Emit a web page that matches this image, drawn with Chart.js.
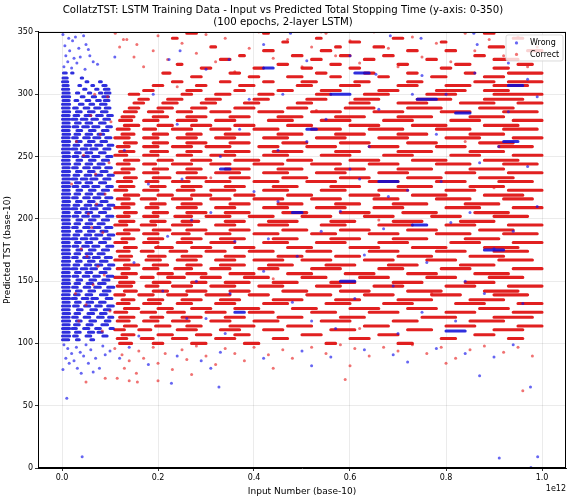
<!DOCTYPE html>
<html><head><meta charset="utf-8">
<script src="https://cdn.jsdelivr.net/npm/chart.js@4.4.1/dist/chart.umd.min.js"></script>
<style>html,body{margin:0;padding:0;background:#fff;}</style>
</head><body>
<canvas id="c" width="572" height="500"></canvas>
<script>
// ---------- DATA (x in units of 1e12) ----------
const TITLE_LINES = ['CollatzTST: LSTM Training Data - Input vs Predicted Total Stopping Time (y-axis: 0-350)', '(100 epochs, 2-layer LSTM)'];
const X_LABEL = 'Input Number (base-10)';
const Y_LABEL = 'Predicted TST (base-10)';
const X_OFFSET_TEXT = '1e12';
const X_TICKS = [0.0, 0.2, 0.4, 0.6, 0.8, 1.0];
const Y_TICKS = [0, 50, 100, 150, 200, 250, 300, 350];
const SERIES_NAMES = ['Wrong', 'Correct'];

// Correct predictions that share one predicted value form runs: [y, xStart, xEnd, xStart, xEnd, ...]
const correctDashRows = [
[100, 0.12,0.145, 0.19,0.21, 0.27,0.3, 0.38,0.41, 0.55,0.57, 0.7,0.73],
[104, 0.115,0.135, 0.165,0.19, 0.23,0.26, 0.32,0.36, 0.44,0.47, 0.6,0.64, 0.79,0.82, 0.93,0.96],
[107, 0.125,0.15, 0.2,0.23, 0.28,0.31, 0.36,0.39, 0.5,0.54, 0.66,0.7, 0.86,0.9],
[111, 0.11,0.13, 0.16,0.185, 0.24,0.28, 0.33,0.37, 0.42,0.46, 0.56,0.61, 0.72,0.77, 0.9,0.96],
[114, 0.13,0.155, 0.195,0.225, 0.26,0.29, 0.35,0.4, 0.47,0.52, 0.63,0.68, 0.8,0.86, 0.95,1.0],
[118, 0.115,0.14, 0.17,0.2, 0.23,0.265, 0.31,0.35, 0.4,0.45, 0.54,0.6, 0.69,0.74, 0.85,0.92],
[121, 0.12,0.15, 0.185,0.21, 0.25,0.29, 0.34,0.38, 0.45,0.5, 0.58,0.63, 0.75,0.82, 0.9,0.98],
[125, 0.11,0.135, 0.165,0.195, 0.22,0.255, 0.3,0.34, 0.39,0.44, 0.52,0.57, 0.64,0.7, 0.8,0.86, 0.94,1.0],
[128, 0.13,0.16, 0.2,0.23, 0.27,0.31, 0.36,0.41, 0.48,0.53, 0.6,0.66, 0.72,0.78, 0.87,0.93],
[132, 0.115,0.14, 0.17,0.205, 0.24,0.27, 0.32,0.36, 0.42,0.47, 0.55,0.6, 0.67,0.73, 0.82,0.88, 0.95,1.0],
[135, 0.125,0.15, 0.18,0.21, 0.25,0.29, 0.33,0.37, 0.44,0.5, 0.57,0.62, 0.7,0.77, 0.85,0.92],
[139, 0.11,0.13, 0.16,0.19, 0.22,0.26, 0.3,0.35, 0.39,0.43, 0.51,0.56, 0.63,0.69, 0.77,0.83, 0.9,0.97],
[142, 0.13,0.155, 0.19,0.22, 0.26,0.3, 0.35,0.39, 0.46,0.51, 0.58,0.64, 0.72,0.79, 0.88,0.95],
[146, 0.115,0.145, 0.175,0.2, 0.23,0.27, 0.31,0.36, 0.41,0.46, 0.53,0.58, 0.65,0.71, 0.8,0.86, 0.93,1.0],
[149, 0.12,0.15, 0.19,0.225, 0.27,0.3, 0.34,0.39, 0.44,0.49, 0.56,0.61, 0.69,0.75, 0.84,0.9],
[153, 0.11,0.135, 0.165,0.19, 0.22,0.255, 0.29,0.33, 0.38,0.43, 0.5,0.55, 0.62,0.68, 0.76,0.82, 0.89,0.96],
[156, 0.125,0.155, 0.2,0.23, 0.26,0.3, 0.35,0.4, 0.47,0.52, 0.59,0.65, 0.72,0.78, 0.86,0.93],
[160, 0.115,0.14, 0.17,0.2, 0.235,0.27, 0.31,0.35, 0.41,0.45, 0.52,0.58, 0.66,0.71, 0.79,0.85, 0.94,1.0],
[163, 0.13,0.16, 0.19,0.22, 0.26,0.29, 0.33,0.38, 0.43,0.48, 0.55,0.61, 0.68,0.74, 0.83,0.9],
[167, 0.11,0.14, 0.175,0.205, 0.24,0.28, 0.32,0.36, 0.4,0.46, 0.5,0.56, 0.63,0.69, 0.76,0.82, 0.91,0.98],
[170, 0.12,0.145, 0.18,0.215, 0.25,0.29, 0.34,0.38, 0.45,0.5, 0.57,0.62, 0.7,0.77, 0.85,0.92],
[174, 0.115,0.14, 0.165,0.19, 0.225,0.26, 0.3,0.34, 0.39,0.44, 0.51,0.56, 0.64,0.7, 0.78,0.84, 0.9,0.97],
[177, 0.13,0.155, 0.195,0.23, 0.27,0.31, 0.36,0.4, 0.47,0.52, 0.6,0.66, 0.73,0.8, 0.88,0.95],
[181, 0.11,0.135, 0.17,0.2, 0.24,0.27, 0.31,0.36, 0.42,0.47, 0.53,0.59, 0.66,0.72, 0.81,0.87, 0.94,1.0],
[184, 0.125,0.15, 0.18,0.21, 0.25,0.29, 0.33,0.38, 0.44,0.49, 0.56,0.62, 0.69,0.76, 0.84,0.91],
[188, 0.115,0.14, 0.17,0.2, 0.23,0.265, 0.3,0.35, 0.4,0.45, 0.52,0.57, 0.64,0.7, 0.78,0.85, 0.92,0.99],
[191, 0.13,0.16, 0.19,0.225, 0.26,0.3, 0.35,0.39, 0.46,0.51, 0.58,0.64, 0.72,0.78, 0.87,0.94],
[195, 0.11,0.135, 0.165,0.195, 0.23,0.27, 0.32,0.36, 0.41,0.47, 0.54,0.59, 0.66,0.73, 0.8,0.86, 0.93,1.0],
[198, 0.12,0.15, 0.185,0.215, 0.25,0.285, 0.34,0.38, 0.43,0.49, 0.56,0.61, 0.69,0.75, 0.83,0.9],
[202, 0.115,0.14, 0.17,0.2, 0.235,0.27, 0.3,0.35, 0.39,0.44, 0.5,0.56, 0.63,0.69, 0.77,0.83, 0.9,0.97],
[205, 0.13,0.155, 0.19,0.22, 0.26,0.3, 0.34,0.39, 0.46,0.51, 0.58,0.64, 0.71,0.78, 0.86,0.93],
[209, 0.11,0.14, 0.175,0.2, 0.24,0.28, 0.32,0.36, 0.42,0.47, 0.53,0.59, 0.65,0.71, 0.8,0.87, 0.94,1.0],
[212, 0.125,0.15, 0.185,0.215, 0.25,0.29, 0.35,0.39, 0.45,0.5, 0.57,0.62, 0.69,0.76, 0.84,0.91],
[216, 0.115,0.14, 0.165,0.195, 0.23,0.27, 0.31,0.35, 0.4,0.46, 0.52,0.58, 0.65,0.7, 0.78,0.85, 0.92,0.98],
[219, 0.13,0.16, 0.2,0.23, 0.27,0.31, 0.36,0.4, 0.47,0.52, 0.6,0.66, 0.73,0.8, 0.88,0.96],
[223, 0.11,0.135, 0.17,0.2, 0.24,0.275, 0.31,0.36, 0.42,0.47, 0.54,0.59, 0.66,0.72, 0.8,0.86, 0.93,1.0],
[226, 0.12,0.15, 0.185,0.215, 0.25,0.29, 0.34,0.38, 0.44,0.49, 0.56,0.62, 0.7,0.77, 0.85,0.92],
[230, 0.115,0.145, 0.175,0.2, 0.23,0.265, 0.3,0.35, 0.4,0.45, 0.51,0.57, 0.64,0.7, 0.78,0.84, 0.91,0.98],
[233, 0.13,0.155, 0.19,0.225, 0.26,0.3, 0.35,0.39, 0.46,0.51, 0.58,0.64, 0.72,0.79, 0.87,0.94],
[237, 0.11,0.14, 0.17,0.2, 0.24,0.28, 0.32,0.37, 0.42,0.47, 0.53,0.59, 0.66,0.72, 0.8,0.86, 0.93,1.0],
[240, 0.125,0.15, 0.19,0.22, 0.26,0.29, 0.34,0.39, 0.45,0.5, 0.57,0.63, 0.7,0.77, 0.85,0.92],
[244, 0.115,0.14, 0.17,0.195, 0.23,0.27, 0.31,0.35, 0.4,0.46, 0.52,0.58, 0.64,0.7, 0.78,0.85, 0.92,0.99],
[247, 0.13,0.16, 0.2,0.23, 0.27,0.31, 0.36,0.41, 0.47,0.52, 0.6,0.66, 0.73,0.8, 0.88,0.95],
[251, 0.11,0.135, 0.17,0.2, 0.24,0.27, 0.31,0.36, 0.42,0.47, 0.54,0.6, 0.67,0.73, 0.81,0.87, 0.94,1.0],
[254, 0.12,0.15, 0.185,0.22, 0.26,0.29, 0.34,0.39, 0.44,0.5, 0.57,0.62, 0.7,0.77, 0.85,0.92],
[258, 0.115,0.14, 0.17,0.2, 0.23,0.27, 0.3,0.35, 0.41,0.45, 0.51,0.57, 0.64,0.7, 0.78,0.84, 0.91,0.98],
[261, 0.13,0.155, 0.19,0.22, 0.26,0.3, 0.35,0.39, 0.46,0.51, 0.58,0.64, 0.72,0.78, 0.87,0.94],
[265, 0.11,0.14, 0.17,0.2, 0.24,0.28, 0.32,0.36, 0.42,0.47, 0.53,0.59, 0.66,0.72, 0.8,0.87, 0.94,1.0],
[268, 0.125,0.15, 0.19,0.22, 0.26,0.29, 0.34,0.39, 0.45,0.5, 0.57,0.63, 0.7,0.76, 0.85,0.92],
[272, 0.115,0.14, 0.17,0.195, 0.23,0.27, 0.31,0.35, 0.4,0.45, 0.52,0.58, 0.64,0.71, 0.78,0.85, 0.92,0.99],
[275, 0.13,0.16, 0.2,0.23, 0.27,0.31, 0.36,0.4, 0.47,0.52, 0.6,0.66, 0.73,0.8, 0.88,0.95],
[279, 0.12,0.145, 0.17,0.2, 0.24,0.28, 0.32,0.36, 0.43,0.48, 0.54,0.6, 0.67,0.73, 0.81,0.87, 0.94,1.0],
[282, 0.125,0.15, 0.19,0.22, 0.26,0.3, 0.35,0.39, 0.45,0.5, 0.57,0.63, 0.7,0.77, 0.85,0.92],
[286, 0.13,0.155, 0.18,0.21, 0.24,0.27, 0.31,0.35, 0.41,0.46, 0.52,0.58, 0.65,0.71, 0.79,0.85, 0.92,0.99],
[289, 0.14,0.16, 0.2,0.23, 0.27,0.3, 0.36,0.4, 0.47,0.51, 0.59,0.65, 0.72,0.79, 0.87,0.94],
[293, 0.15,0.17, 0.21,0.24, 0.29,0.32, 0.38,0.41, 0.49,0.52, 0.6,0.64, 0.7,0.76, 0.83,0.9, 0.95,1.0],
[296, 0.16,0.18, 0.22,0.25, 0.3,0.33, 0.4,0.43, 0.51,0.55, 0.61,0.66, 0.74,0.81, 0.88,0.96],
[300, 0.14,0.16, 0.25,0.27, 0.32,0.35, 0.41,0.44, 0.53,0.56, 0.63,0.68, 0.76,0.82, 0.9,1.0],
[303, 0.17,0.19, 0.26,0.29, 0.36,0.38, 0.45,0.48, 0.54,0.58, 0.66,0.7, 0.78,0.84, 0.88,0.93],
[307, 0.19,0.21, 0.28,0.3, 0.37,0.4, 0.49,0.52, 0.58,0.62, 0.7,0.74, 0.8,0.85, 0.9,0.97],
[310, 0.23,0.25, 0.33,0.35, 0.42,0.44, 0.5,0.53, 0.61,0.64, 0.72,0.75, 0.86,0.9, 0.93,1.0],
[314, 0.27,0.29, 0.39,0.41, 0.47,0.5, 0.56,0.58, 0.66,0.68, 0.77,0.8, 0.88,0.92],
[317, 0.21,0.225, 0.35,0.37, 0.53,0.55, 0.63,0.65, 0.72,0.74, 0.84,0.86, 0.93,1.0],
[321, 0.29,0.31, 0.4,0.42, 0.5,0.52, 0.6,0.62, 0.79,0.81, 0.9,0.93],
[324, 0.24,0.25, 0.45,0.47, 0.56,0.58, 0.7,0.72, 0.82,0.85, 0.95,0.98],
[328, 0.33,0.35, 0.52,0.54, 0.63,0.65, 0.76,0.78, 0.9,0.95],
[331, 0.37,0.38, 0.48,0.5, 0.58,0.6, 0.67,0.69, 0.86,0.88],
[335, 0.42,0.44, 0.54,0.56, 0.72,0.74, 0.8,0.82, 0.97,1.0],
[338, 0.31,0.32, 0.57,0.58, 0.65,0.67, 0.89,0.92],
[342, 0.46,0.47, 0.6,0.62, 0.79,0.8],
[345, 0.23,0.24, 0.53,0.54, 0.69,0.71, 0.94,0.96],
[349, 0.26,0.28, 0.42,0.43, 0.88,0.9]
];

// Wrong predictions that share one predicted value: [y, xStart, xEnd, ...]
const wrongDashRows = [
[103, 0.001,0.014, 0.03,0.036, 0.06,0.066],
[106, 0.001,0.016, 0.024,0.032, 0.05,0.06, 0.085,0.094],
[109, 0.002,0.015, 0.028,0.038, 0.055,0.066, 0.075,0.084],
[112, 0.001,0.016, 0.021,0.03, 0.045,0.056, 0.07,0.08, 0.1,0.107],
[115, 0.002,0.015, 0.026,0.036, 0.052,0.063, 0.083,0.095],
[118, 0.001,0.016, 0.03,0.04, 0.058,0.07, 0.09,0.1],
[121, 0.001,0.015, 0.022,0.032, 0.046,0.058, 0.074,0.086, 0.097,0.106],
[124, 0.002,0.016, 0.027,0.037, 0.054,0.066, 0.08,0.092],
[127, 0.001,0.015, 0.032,0.042, 0.06,0.072, 0.088,0.1],
[130, 0.001,0.016, 0.024,0.034, 0.047,0.058, 0.07,0.082, 0.095,0.107],
[133, 0.002,0.015, 0.028,0.038, 0.052,0.064, 0.078,0.09],
[136, 0.001,0.016, 0.021,0.03, 0.042,0.054, 0.062,0.074, 0.092,0.104],
[139, 0.001,0.015, 0.026,0.036, 0.05,0.062, 0.08,0.094],
[142, 0.002,0.016, 0.03,0.04, 0.056,0.068, 0.086,0.1],
[145, 0.001,0.015, 0.022,0.032, 0.046,0.058, 0.068,0.08, 0.095,0.108],
[148, 0.001,0.016, 0.027,0.037, 0.052,0.064, 0.076,0.09],
[151, 0.002,0.015, 0.031,0.041, 0.058,0.07, 0.085,0.098],
[154, 0.001,0.016, 0.023,0.033, 0.044,0.056, 0.066,0.078, 0.094,0.106],
[157, 0.001,0.015, 0.028,0.038, 0.05,0.062, 0.079,0.092],
[160, 0.002,0.016, 0.021,0.031, 0.04,0.052, 0.06,0.072, 0.088,0.1],
[163, 0.001,0.015, 0.025,0.035, 0.048,0.06, 0.07,0.083, 0.097,0.108],
[166, 0.001,0.016, 0.03,0.04, 0.055,0.067, 0.08,0.094],
[169, 0.002,0.015, 0.022,0.032, 0.045,0.057, 0.065,0.078, 0.09,0.103],
[172, 0.001,0.016, 0.027,0.037, 0.05,0.062, 0.075,0.088],
[175, 0.001,0.015, 0.031,0.041, 0.057,0.069, 0.084,0.097],
[178, 0.002,0.016, 0.023,0.033, 0.043,0.055, 0.064,0.077, 0.093,0.106],
[181, 0.001,0.015, 0.028,0.038, 0.05,0.062, 0.078,0.091],
[184, 0.001,0.016, 0.021,0.031, 0.04,0.052, 0.06,0.073, 0.087,0.1],
[187, 0.002,0.015, 0.025,0.035, 0.048,0.06, 0.07,0.083, 0.096,0.108],
[190, 0.001,0.016, 0.03,0.04, 0.055,0.067, 0.081,0.094],
[193, 0.001,0.015, 0.022,0.032, 0.045,0.057, 0.066,0.079, 0.091,0.104],
[196, 0.002,0.016, 0.027,0.037, 0.05,0.062, 0.075,0.088],
[199, 0.001,0.015, 0.031,0.041, 0.057,0.069, 0.084,0.097],
[202, 0.001,0.016, 0.023,0.033, 0.043,0.055, 0.064,0.077, 0.093,0.106],
[205, 0.002,0.015, 0.028,0.038, 0.05,0.062, 0.078,0.091],
[208, 0.001,0.016, 0.021,0.031, 0.04,0.052, 0.06,0.073, 0.087,0.1],
[211, 0.001,0.015, 0.025,0.035, 0.048,0.06, 0.07,0.083, 0.096,0.108],
[214, 0.002,0.016, 0.03,0.04, 0.055,0.067, 0.081,0.094],
[217, 0.001,0.015, 0.022,0.032, 0.045,0.057, 0.066,0.079, 0.091,0.104],
[220, 0.001,0.016, 0.027,0.037, 0.05,0.062, 0.075,0.088],
[223, 0.002,0.015, 0.031,0.041, 0.057,0.069, 0.084,0.097],
[226, 0.001,0.016, 0.023,0.033, 0.043,0.055, 0.064,0.077, 0.093,0.105],
[229, 0.001,0.015, 0.028,0.038, 0.05,0.062, 0.078,0.091],
[232, 0.002,0.016, 0.021,0.031, 0.04,0.052, 0.06,0.073, 0.087,0.1],
[235, 0.001,0.015, 0.025,0.035, 0.048,0.06, 0.07,0.083, 0.096,0.107],
[238, 0.001,0.016, 0.03,0.04, 0.055,0.067, 0.081,0.094],
[241, 0.002,0.015, 0.022,0.032, 0.045,0.057, 0.066,0.079, 0.091,0.103],
[244, 0.001,0.016, 0.027,0.037, 0.05,0.062, 0.075,0.088],
[247, 0.001,0.015, 0.031,0.041, 0.057,0.069, 0.084,0.097],
[250, 0.002,0.016, 0.023,0.033, 0.043,0.055, 0.064,0.077, 0.093,0.104],
[253, 0.001,0.015, 0.028,0.038, 0.05,0.062, 0.078,0.09],
[256, 0.001,0.016, 0.021,0.031, 0.04,0.052, 0.06,0.073, 0.087,0.1],
[259, 0.002,0.015, 0.025,0.035, 0.048,0.06, 0.07,0.083, 0.096,0.106],
[262, 0.001,0.016, 0.03,0.04, 0.055,0.067, 0.081,0.093],
[265, 0.001,0.015, 0.022,0.032, 0.045,0.057, 0.066,0.079, 0.091,0.102],
[268, 0.002,0.016, 0.027,0.037, 0.05,0.062, 0.075,0.087],
[271, 0.001,0.015, 0.031,0.041, 0.057,0.069, 0.084,0.096],
[274, 0.001,0.016, 0.023,0.033, 0.043,0.055, 0.064,0.077, 0.093,0.103],
[277, 0.002,0.015, 0.028,0.038, 0.05,0.062, 0.078,0.09],
[280, 0.001,0.016, 0.021,0.031, 0.04,0.052, 0.062,0.074, 0.087,0.099],
[283, 0.001,0.015, 0.025,0.035, 0.048,0.06, 0.072,0.084, 0.095,0.105],
[286, 0.002,0.016, 0.03,0.04, 0.055,0.067, 0.082,0.094],
[289, 0.001,0.015, 0.024,0.032, 0.046,0.056, 0.068,0.079, 0.09,0.1],
[292, 0.001,0.016, 0.036,0.044, 0.058,0.066, 0.08,0.092],
[295, 0.002,0.015, 0.027,0.033, 0.05,0.058, 0.072,0.08, 0.088,0.098],
[298, 0.001,0.016, 0.04,0.046, 0.063,0.07, 0.085,0.097],
[301, 0.002,0.015, 0.03,0.035, 0.055,0.06, 0.078,0.083, 0.09,0.1],
[304, 0.001,0.014, 0.045,0.05, 0.07,0.075, 0.088,0.098],
[307, 0.002,0.013, 0.035,0.039, 0.062,0.066, 0.085,0.092],
[310, 0.001,0.012, 0.05,0.054, 0.078,0.082],
[313, 0.002,0.011, 0.04,0.043],
[317, 0.003,0.009, 0.02,0.023],
[296, 0.74,0.78], [300, 0.56,0.6], [317, 0.61,0.64], [285, 0.82,0.85], [262, 0.92,0.95],
[240, 0.33,0.35], [230, 0.66,0.7], [205, 0.48,0.5], [175, 0.88,0.92], [150, 0.58,0.61],
[125, 0.36,0.38], [110, 0.8,0.84], [321, 0.42,0.44], [307, 0.93,0.96], [272, 0.51,0.53], [195, 0.73,0.76]
];

// Isolated correct predictions [x, y]
const correctDots = [
[0.035,118],[0.05,131],[0.065,147],[0.075,162],[0.04,176],[0.085,189],[0.055,204],[0.09,220],[0.07,236],[0.045,251],
[0.08,268],[0.06,283],[0.095,298],[0.1,126],[0.028,140],[0.088,155],[0.062,193],[0.098,245],[0.03,262],[0.072,212],
[0.02,228],[0.052,170],[0.084,110],[0.102,278],[0.068,300],
[0.11,96],[0.125,91],[0.14,86],[0.16,94],[0.13,80],[0.155,76],[0.17,88],[0.19,97],[0.2,84],[0.215,92],[0.23,79],
[0.25,95],[0.26,87],[0.28,98],[0.3,90],[0.32,83],[0.34,96],[0.36,92],[0.38,86],[0.4,97],[0.43,91],[0.46,95],[0.48,88],
[0.52,97],[0.55,92],[0.58,99],[0.61,96],[0.64,90],[0.67,97],[0.7,94],[0.73,99],[0.76,92],[0.79,97],[0.82,88],[0.85,95],
[0.88,98],[0.92,93],[0.95,97],[0.98,90],[0.115,72],[0.2,70],[0.27,75],[0.44,80],[0.6,82],[0.8,84],[0.05,69],[0.157,69],
[0.59,71],[0.96,62],[0.09,72],[0.14,70],
[0.12,338],[0.135,344],[0.15,330],[0.17,322],[0.19,335],[0.2,347],[0.22,328],[0.25,341],[0.28,333],[0.3,348],[0.32,326],
[0.34,345],[0.36,318],[0.39,337],[0.41,350],[0.44,329],[0.47,344],[0.5,322],[0.52,338],[0.55,349],[0.57,331],[0.6,343],
[0.62,325],[0.65,350],[0.68,337],[0.7,322],[0.73,346],[0.75,330],[0.78,341],[0.81,326],[0.84,349],[0.86,335],[0.89,344],
[0.92,331],[0.95,346],[0.97,322],[0.99,338],[0.111,349],[0.128,344],[0.156,340],[0.54,350],[0.88,350],
[0.2,178],[0.31,233],[0.44,152],[0.53,287],[0.66,199],[0.77,140],[0.9,225],[0.24,306],[0.62,112],[0.84,262]
];

// Isolated wrong predictions [x, y]
const wrongDots = [
[0.004,322],[0.012,326],[0.02,321],[0.008,331],[0.016,335],[0.025,329],[0.031,325],[0.006,339],[0.022,343],[0.04,350],
[0.045,347],[0.05,340],[0.035,337],[0.028,346],[0.014,345],[0.058,331],[0.065,326],[0.048,320],[0.074,324],[0.055,336],
[0.002,348],[0.038,330],
[0.004,99],[0.012,96],[0.02,92],[0.008,88],[0.03,97],[0.038,93],[0.015,84],[0.025,86],[0.045,90],[0.05,99],[0.06,95],
[0.07,88],[0.055,84],[0.032,80],[0.002,79],[0.085,98],[0.09,91],[0.078,80],[0.1,94],[0.065,77],[0.04,76],
[0.228,68],[0.327,65],[0.976,65],[0.911,8],[0.991,9],[0.977,0.5],[0.01,56],[0.042,9],[0.12,88],[0.18,83],[0.24,90],
[0.29,86],[0.33,93],[0.42,88],[0.5,94],[0.56,89],[0.63,95],[0.69,91],[0.72,85],[0.78,96],[0.84,92],[0.9,89],[0.94,99],
[0.14,97],[0.31,80],[0.52,82],[0.87,74],
[0.15,165],[0.18,228],[0.21,142],[0.24,276],[0.27,199],[0.3,120],[0.33,250],[0.36,182],[0.39,296],[0.42,158],[0.45,214],
[0.48,133],[0.51,262],[0.54,190],[0.57,112],[0.6,240],[0.63,171],[0.66,288],[0.69,146],[0.72,223],[0.75,125],[0.78,268],
[0.81,197],[0.84,150],[0.87,245],[0.9,176],[0.93,286],[0.96,132],[0.99,210],[0.13,255],[0.16,106],[0.19,300],[0.22,186],
[0.25,232],[0.28,150],[0.31,205],[0.34,108],[0.37,272],[0.4,222],[0.43,184],[0.46,300],[0.49,170],[0.52,118],[0.55,280],
[0.58,206],[0.61,136],[0.64,258],[0.67,192],[0.7,108],[0.73,300],[0.76,165],[0.79,230],[0.82,118],[0.85,205],[0.88,140],
[0.91,258],[0.94,190],[0.97,242],[0.99,298],[0.45,255],[0.62,232],[0.35,140],[0.8,300],[0.26,120],[0.68,218],
[0.246,335],[0.223,328],[0.348,328],[0.51,327],[0.6,331],[0.654,316],[0.75,315],[0.86,317],[0.858,349],[0.865,340],
[0.748,345],[0.684,347],[0.476,349],[0.3,320],[0.42,340],[0.93,325],[0.97,312],[0.11,330]
];

// ---------- BUILD ----------
function rowsToSegments(rows) {
  const out = [];
  rows.forEach(r => {
    const y = r[0];
    for (let i = 1; i + 1 < r.length; i += 2) {
      out.push({x: r[i], y: y});
      out.push({x: r[i + 1], y: y});
      out.push({x: NaN, y: NaN});
    }
  });
  return out;
}
const pairsToPoints = arr => arr.map(p => ({x: p[0], y: p[1]}));

const FONT = "'DejaVu Sans', 'Liberation Sans', sans-serif";
const RED_RUN = 'rgba(222,8,8,0.9)';
const BLUE_RUN = 'rgba(10,10,215,0.85)';
const RED_DOT = 'rgba(230,20,20,0.6)';
const BLUE_DOT = 'rgba(20,20,235,0.65)';

const framePlugin = {
  id: 'frame',
  afterDraw(chart) {
    const {ctx, chartArea: a} = chart;
    ctx.save();
    ctx.strokeStyle = '#000';
    ctx.lineWidth = 1;
    ctx.strokeRect(Math.round(a.left) + 0.5, Math.round(a.top) + 0.5, Math.round(a.right - a.left) - 1, Math.round(a.bottom - a.top) - 1);
    // offset text
    ctx.fillStyle = '#000';
    ctx.font = '8px ' + FONT;
    ctx.textAlign = 'right';
    ctx.textBaseline = 'middle';
    ctx.fillText(X_OFFSET_TEXT, a.right, a.bottom + 21);
    // legend
    const bx = a.right - 60, by = a.top + 3, bw = 57, bh = 26;
    ctx.beginPath();
    if (ctx.roundRect) ctx.roundRect(bx, by, bw, bh, 2); else ctx.rect(bx, by, bw, bh);
    ctx.fillStyle = 'rgba(255,255,255,0.8)';
    ctx.fill();
    ctx.strokeStyle = '#d0d0d0';
    ctx.lineWidth = 0.8;
    ctx.stroke();
    const items = [[SERIES_NAMES[0], BLUE_DOT, by + 8], [SERIES_NAMES[1], RED_DOT, by + 19.5]];
    items.forEach(([name, col, yy]) => {
      ctx.beginPath();
      ctx.arc(bx + 10.5, yy, 1.6, 0, Math.PI * 2);
      ctx.fillStyle = col;
      ctx.fill();
      ctx.fillStyle = '#000';
      ctx.textAlign = 'left';
      ctx.fillText(name, bx + 24, yy);
    });
    ctx.restore();
  }
};

new Chart(document.getElementById('c'), {
  type: 'scatter',
  data: {
    datasets: [
      {label: SERIES_NAMES[1], data: rowsToSegments(correctDashRows), showLine: true, borderColor: RED_RUN, borderWidth: 3.1, borderCapStyle: 'round', pointRadius: 0, order: 4},
      {label: SERIES_NAMES[0], data: rowsToSegments(wrongDashRows), showLine: true, borderColor: BLUE_RUN, borderWidth: 3.0, borderCapStyle: 'round', pointRadius: 0, order: 3},
      {label: SERIES_NAMES[1], data: pairsToPoints(correctDots), pointRadius: 1.5, backgroundColor: RED_DOT, borderWidth: 0, order: 2},
      {label: SERIES_NAMES[0], data: pairsToPoints(wrongDots), pointRadius: 1.5, backgroundColor: BLUE_DOT, borderWidth: 0, order: 1}
    ]
  },
  options: {
    responsive: false,
    animation: false,
    events: [],
    layout: {padding: {left: 0, right: 6, top: 0, bottom: 0}},
    plugins: {
      legend: {display: false},
      tooltip: {enabled: false},
      title: {display: true, text: TITLE_LINES, color: '#000', font: {family: FONT, size: 10.2, weight: 'normal', lineHeight: 1.18}, padding: {top: 4.5, bottom: 3.4}}
    },
    scales: {
      x: {
        type: 'linear', min: -0.05, max: 1.05,
        afterBuildTicks: s => { s.ticks = X_TICKS.map(v => ({value: v})); },
        afterFit: s => { s.height = 32; },
        ticks: {callback: v => Number(v).toFixed(1), color: '#000', font: {family: FONT, size: 8}, padding: 2, maxRotation: 0, autoSkip: false},
        grid: {color: 'rgba(0,0,0,0.1)', lineWidth: 0.8, tickColor: '#000', tickLength: 3, tickWidth: 0.8},
        border: {color: '#000', width: 1},
        title: {display: true, text: X_LABEL, color: '#000', font: {family: FONT, size: 9}, padding: {top: 1, bottom: 3}}
      },
      y: {
        type: 'linear', min: 0, max: 350,
        afterBuildTicks: s => { s.ticks = Y_TICKS.map(v => ({value: v})); },
        afterFit: s => { s.width = 38; },
        ticks: {color: '#000', font: {family: FONT, size: 8}, padding: 2, autoSkip: false},
        grid: {color: 'rgba(0,0,0,0.1)', lineWidth: 0.8, tickColor: '#000', tickLength: 3, tickWidth: 0.8},
        border: {color: '#000', width: 1},
        title: {display: true, text: Y_LABEL, color: '#000', font: {family: FONT, size: 9}, padding: {top: 2, bottom: 2}}
      }
    }
  },
  plugins: [framePlugin]
});
</script>
</body></html>
